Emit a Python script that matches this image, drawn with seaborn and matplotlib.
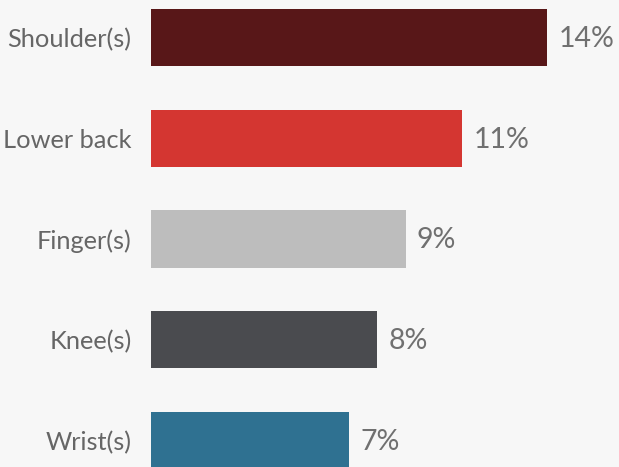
import matplotlib
matplotlib.use("Agg")
import matplotlib.pyplot as plt
import seaborn as sns
import pandas as pd

# Share of respondents reporting pain, by body area
areas = ["Shoulder(s)", "Lower back", "Finger(s)", "Knee(s)", "Wrist(s)"]
shares = [14, 11, 9, 8, 7]
bar_colors = ["#581718", "#d43631", "#bdbdbd", "#4a4b4f", "#2f7191"]

df = pd.DataFrame({"area": areas, "share": shares})

sns.set_theme(style="white")
plt.rcParams["font.family"] = ["Lato", "DejaVu Sans"]

bg = "#f7f7f7"
fig = plt.figure(figsize=(6.19, 4.67), dpi=100, facecolor=bg)
ax = fig.add_axes([151 / 619, 0, 1 - 151 / 619, 1])
ax.set_facecolor(bg)

sns.barplot(data=df, x="share", y="area", hue="area", palette=bar_colors,
            width=0.566, legend=False, ax=ax, saturation=1, linewidth=0)

ax.set_xlim(0, 468 / 28.3)
ax.set_ylim(4.263, -0.372)

for i, v in enumerate(shares):
    ax.annotate(f"{v}%", xy=(v, i), xytext=(8, -1), textcoords="offset points",
                va="center", ha="left", fontsize=20.5, fontweight="normal",
                color="#707070")

ax.set_xlabel("")
ax.set_ylabel("")
ax.set_xticks([])
ax.tick_params(axis="y", length=0, pad=14, labelsize=18.3, labelcolor="#666666")
for s in ax.spines.values():
    s.set_visible(False)

fig.savefig("out.png", dpi=100, facecolor=bg)
